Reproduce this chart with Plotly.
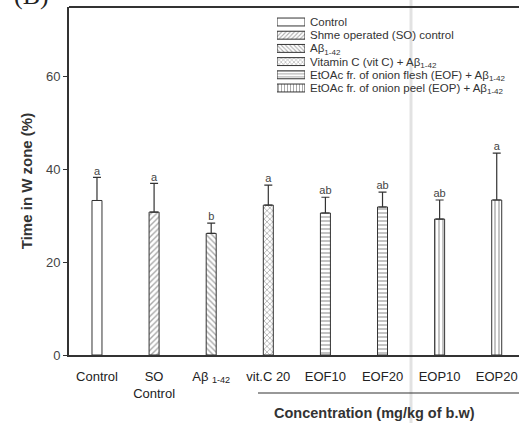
import plotly.graph_objects as go

# ---- data ----
categories = ["Control", "SO Control", "Abeta", "vit.C 20", "EOF10", "EOF20", "EOP10", "EOP20"]
tick_labels = ["Control", "SO<br>Control", "Aβ <sub>1-42</sub>", "vit.C 20", "EOF10", "EOF20", "EOP10", "EOP20"]
values = [33.3, 30.8, 26.2, 32.3, 30.6, 31.9, 29.3, 33.4]
errors = [5.0, 6.2, 2.2, 4.3, 3.4, 3.2, 4.1, 10.1]
letters = ["a", "a", "b", "a", "ab", "ab", "ab", "a"]
patterns = ["", "/", "\\", "x", "-", "-", "|", "|"]

legend_labels = [
    "Control",
    "Shme operated (SO) control",
    "Aβ<sub>1-42</sub>",
    "Vitamin C (vit C) + Aβ<sub>1-42</sub>",
    "EtOAc fr. of onion flesh (EOF) + Aβ<sub>1-42</sub>",
    "EtOAc fr. of onion peel (EOP) + Aβ<sub>1-42</sub>",
]
legend_patterns = ["", "/", "\\", "x", "-", "|"]

W, H = 519, 423
L, T, B = 69, 7, 68
pw, ph = W - L, H - T - B

def px_x(p):
    return (p - L) / pw

def px_y(p):
    return (H - B - p) / ph

dark = "#333333"

fig = go.Figure()

fig.add_trace(go.Bar(
    x=categories, y=values, width=0.175,
    marker=dict(color="white", line=dict(color=dark, width=1),
                pattern=dict(shape=patterns, fgcolor="#555555", bgcolor="white",
                             size=4, solidity=0.35)),
    error_y=dict(type="data", array=errors, arrayminus=[0] * len(errors),
                 symmetric=False, color=dark, thickness=1.2, width=4),
    showlegend=False,
))

fig.add_trace(go.Scatter(
    x=categories, y=[v + e for v, e in zip(values, errors)],
    mode="text", text=letters, textposition="top center",
    textfont=dict(family="Arial", size=11, color="#444444"),
    showlegend=False, cliponaxis=False,
))

# legend drawn as swatch bars on a small secondary axis
fig.add_trace(go.Bar(
    x=[1] * len(legend_labels), y=list(range(len(legend_labels))),
    orientation="h", width=0.6, xaxis="x2", yaxis="y2",
    marker=dict(color="white", line=dict(color=dark, width=1),
                pattern=dict(shape=legend_patterns, fgcolor="#555555", bgcolor="white",
                             size=3, solidity=0.35)),
    showlegend=False, hoverinfo="skip",
))

fig.update_layout(
    width=W, height=H,
    margin=dict(l=L, r=0, t=T, b=B),
    paper_bgcolor="white", plot_bgcolor="white",
    font=dict(family="Arial", color="#333333"),
    xaxis=dict(
        type="category", range=[-0.49, 7.39],
        tickmode="array", tickvals=categories, ticktext=tick_labels,
        tickfont=dict(family="Arial", size=13, color="#222222"),
        showline=True, linecolor=dark, linewidth=2, ticks="",
        ticklabelstandoff=8,
        showgrid=False, zeroline=False,
    ),
    yaxis=dict(
        range=[0, 75], tickvals=[0, 20, 40, 60],
        tickfont=dict(family="Arial", size=13, color="#444444"),
        showline=True, linecolor=dark, linewidth=2,
        ticks="outside", ticklen=4, tickcolor=dark,
        showgrid=False, zeroline=False,
        title=dict(text="<b>Time in W zone (%)</b>",
                   font=dict(family="Arial", size=15, color="#333333"), standoff=10),
    ),
    xaxis2=dict(domain=[px_x(277), px_x(305)], anchor="y2", range=[0, 1],
                visible=False, fixedrange=True),
    yaxis2=dict(domain=[px_y(94.6), px_y(15.4)], anchor="x2", range=[5.5, -0.5],
                side="right", tickmode="array", tickvals=list(range(len(legend_labels))),
                ticktext=legend_labels, ticks="", showline=False, showgrid=False,
                ticklabelstandoff=4,
                zeroline=False, tickfont=dict(family="Arial", size=11.5, color="#333333")),
    shapes=[
        dict(type="line", xref="paper", yref="paper", x0=0, x1=1, y0=1, y1=1,
             line=dict(color=dark, width=2)),
        dict(type="line", xref="paper", yref="paper", x0=px_x(258), x1=1,
             y0=px_y(393), y1=px_y(393), line=dict(color=dark, width=1.2)),
        dict(type="line", xref="paper", yref="paper", x0=px_x(411), x1=px_x(411),
             y0=px_y(423), y1=px_y(0), line=dict(color="rgba(190,190,190,0.45)", width=3),
             layer="below"),
    ],
    annotations=[
        dict(text="<b>Concentration (mg/kg of b.w)</b>", xref="paper", yref="paper",
             x=px_x(374), y=px_y(413), showarrow=False, xanchor="center", yanchor="middle",
             font=dict(family="Arial", size=14.5, color="#333333")),
        dict(text="(B)", xref="paper", yref="paper", x=px_x(12), y=px_y(12),
             showarrow=False, xanchor="left", yanchor="bottom",
             font=dict(family="Liberation Serif", size=26, color="#222222")),
    ],
)

fig.write_html("out.html")
